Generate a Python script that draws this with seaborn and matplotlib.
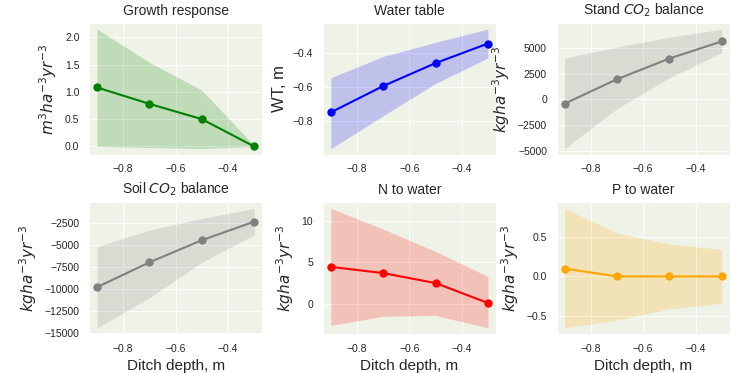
import matplotlib
matplotlib.use("Agg")
import matplotlib.pyplot as plt
import numpy as np
import pandas as pd
import seaborn as sns

# ---------------- data ----------------
depth = [-0.9, -0.7, -0.5, -0.3]

growth_mean = [1.08, 0.78, 0.50, 0.0]
growth_low = [0.0, -0.02, -0.04, 0.0]
growth_high = [2.15, 1.54, 1.03, 0.02]

wt_mean = [-0.75, -0.595, -0.46, -0.345]
wt_low = [-0.963, -0.77, -0.58, -0.43]
wt_high = [-0.546, -0.421, -0.338, -0.26]

stand_mean = [-420, 1960, 3980, 5650]
stand_low = [-4800, -900, 2100, 4550]
stand_high = [4000, 5100, 6050, 6850]

soil_mean = [-9800, -7000, -4500, -2400]
soil_low = [-14400, -11000, -7000, -3900]
soil_high = [-5250, -3350, -2050, -900]

n_mean = [4.45, 3.7, 2.5, 0.1]
n_low = [-2.6, -1.5, -1.4, -2.9]
n_high = [11.5, 9.0, 6.3, 3.3]

p_mean = [0.10, 0.0, 0.0, 0.0]
p_low = [-0.65, -0.55, -0.41, -0.34]
p_high = [0.86, 0.55, 0.41, 0.34]

titles = ["Growth response", "Water table", "Stand $CO_2$ balance",
          "Soil $CO_2$ balance", "N to water", "P to water"]
ylabels = ["$m^3ha^{-3}yr^{-3}$", "WT, m", "$kgha^{-3}yr^{-3}$",
           "$kgha^{-3}yr^{-3}$", "$kgha^{-3}yr^{-3}$", "$kgha^{-3}yr^{-3}$"]
colors = ["green", "blue", "grey", "grey", "red", "orange"]
xlabel = "Ditch depth, m"

series = [(growth_mean, growth_low, growth_high),
          (wt_mean, wt_low, wt_high),
          (stand_mean, stand_low, stand_high),
          (soil_mean, soil_low, soil_high),
          (n_mean, n_low, n_high),
          (p_mean, p_low, p_high)]

# ---------------- style ----------------
sns.set_style("darkgrid", {"axes.facecolor": "#eff2e7"})
plt.rcParams["font.family"] = ["Liberation Sans", "DejaVu Sans"]

fig, axes = plt.subplots(2, 3, figsize=(7.31, 3.73), dpi=100)
fig.subplots_adjust(left=0.122, right=0.998, top=0.938, bottom=0.105,
                    wspace=0.353, hspace=0.364)

for i, (ax, (m, lo, hi)) in enumerate(zip(axes.flat, series)):
    df = pd.DataFrame({"depth": depth, "val": m})
    ax.fill_between(depth, lo, hi, color=colors[i], alpha=0.2, linewidth=0)
    sns.lineplot(data=df, x="depth", y="val", ax=ax, color=colors[i],
                 marker="o", markersize=6, markeredgewidth=0, linewidth=1.5)
    ax.set_title(titles[i], fontsize=10, color=".15")
    ysize = 12 if ylabels[i] == "WT, m" else 11
    ax.set_ylabel(ylabels[i], fontsize=ysize, color=".15")
    if i >= 3:
        ax.set_xlabel(xlabel, fontsize=11, color=".15")
    else:
        ax.set_xlabel("")
    ax.set_xticks([-0.8, -0.6, -0.4])
    ax.tick_params(labelsize=7.5, colors=".15")

fig.savefig("out.png", dpi=100)
